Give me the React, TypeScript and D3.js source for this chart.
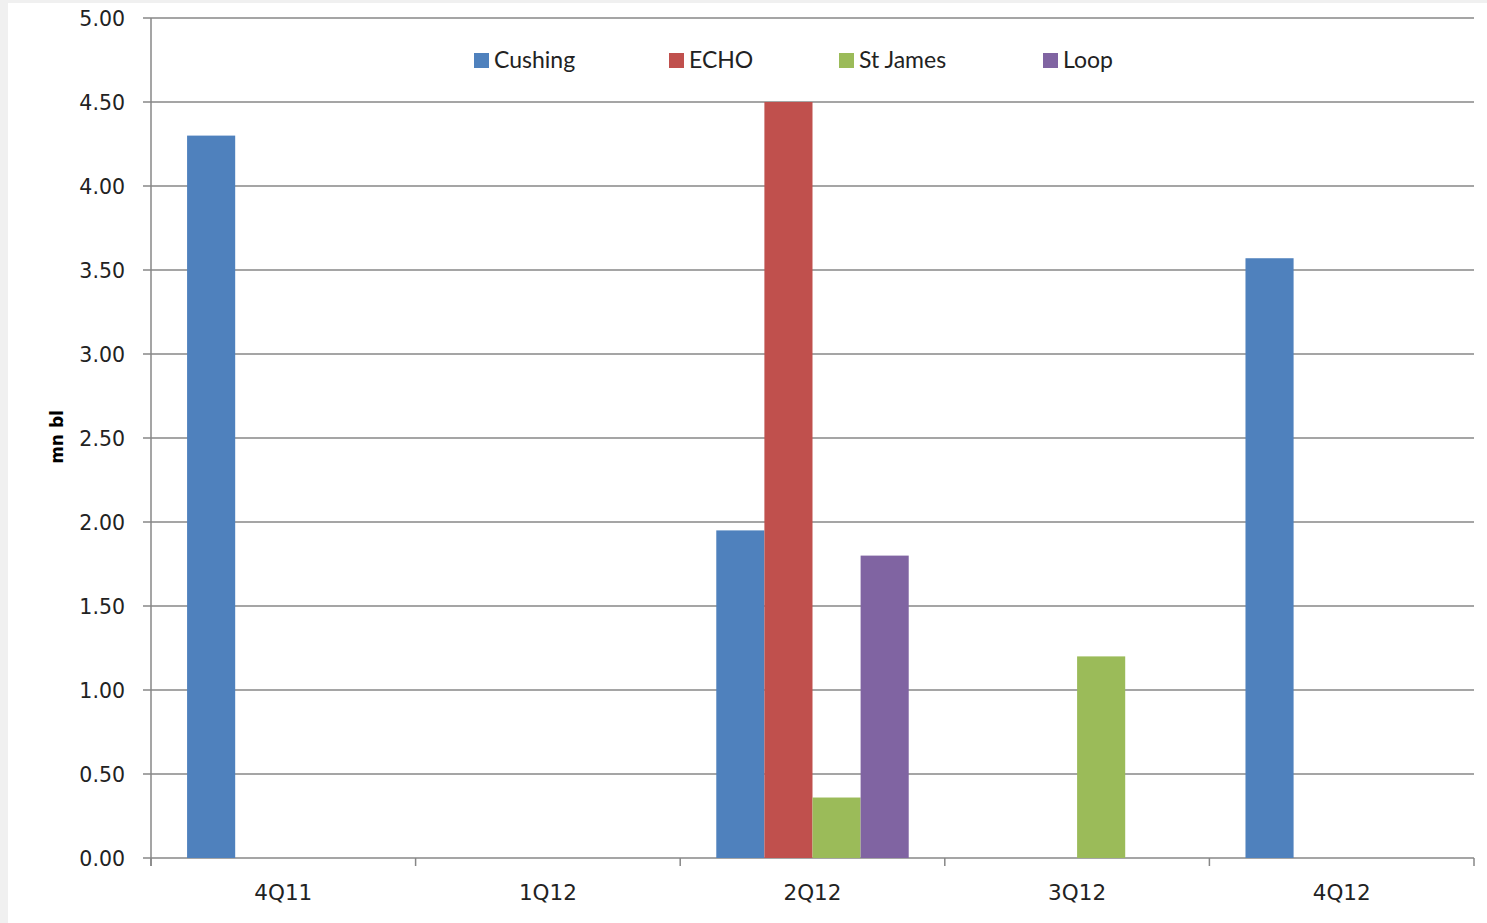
import React from "react";
import * as d3 from "d3";

const categories = ["4Q11", "1Q12", "2Q12", "3Q12", "4Q12"];
const seriesNames = ["Cushing", "ECHO", "St James", "Loop"];
const cushing = [4.3, 0, 1.95, 0, 3.57];
const echo = [0, 0, 4.5, 0, 0];
const stJames = [0, 0, 0.36, 1.2, 0];
const loop = [0, 0, 1.8, 0, 0];
const yTicks = [0, 0.5, 1, 1.5, 2, 2.5, 3, 3.5, 4, 4.5, 5];
const colors = ["#4f81bd", "#c0504d", "#9bbb59", "#8064a2"];
const legendX = [474, 669, 839, 1043];

const W = 1487;
const H = 923;
const left = 151;
const right = 1474;
const top = 18;
const bottom = 858;

export default function App() {
  const seriesValues = [cushing, echo, stJames, loop];
  const x0 = d3.scaleBand<string>().domain(categories).range([left, right]).paddingInner(0).paddingOuter(0);
  const bw = x0.bandwidth();
  const barW = bw / 5.5;
  const y = d3.scaleLinear().domain([0, 5]).range([bottom, top]);
  const grid = "#878787";
  const font = "'DejaVu Sans', Verdana, sans-serif";

  return (
    <svg width={W} height={H} style={{ position: "absolute", left: 0, top: 0, display: "block" }}>
      <rect x={0} y={0} width={W} height={H} fill="#f0f0f0" />
      <rect x={8} y={3} width={W - 8} height={H - 3} fill="#ffffff" />
      {yTicks.map((t) => (
        <g key={t}>
          <line x1={left - 8} x2={right} y1={y(t)} y2={y(t)} stroke={grid} strokeWidth={1.5} />
          <text x={125} y={y(t) + 8} textAnchor="end" fontFamily={font} fontSize={20.5} fill="#222">
            {t.toFixed(2)}
          </text>
        </g>
      ))}
      <line x1={left} x2={left} y1={top} y2={bottom + 8} stroke={grid} strokeWidth={1.5} />
      {categories.map((c, i) => (
        <line key={"t" + i} x1={x0(c)!} x2={x0(c)!} y1={bottom} y2={bottom + 8} stroke={grid} strokeWidth={1.5} />
      ))}
      <line x1={right} x2={right} y1={bottom} y2={bottom + 8} stroke={grid} strokeWidth={1.5} />
      {categories.map((c, i) => (
        <text key={"l" + i} x={x0(c)! + bw / 2} y={900} textAnchor="middle" fontFamily={font} fontSize={21.5} fill="#222">
          {c}
        </text>
      ))}
      {seriesValues.map((vals, s) =>
        vals.map((v, i) =>
          v > 0 ? (
            <rect
              key={s + "-" + i}
              x={x0(categories[i])! + barW * 0.75 + s * barW}
              y={y(v)}
              width={barW}
              height={y(0) - y(v)}
              fill={colors[s]}
            />
          ) : null
        )
      )}
      {seriesNames.map((n, s) => (
        <g key={n}>
          <rect x={legendX[s]} y={53} width={15} height={15} fill={colors[s]} />
          <text x={legendX[s] + 20} y={68} fontFamily="Lato, 'Open Sans', sans-serif" fontSize={23} fill="#222">
            {n}
          </text>
        </g>
      ))}
      <text
        transform={`translate(63, 437) rotate(-90)`}
        textAnchor="middle"
        fontFamily={font}
        fontWeight="bold"
        fontSize={17}
        fill="#000"
      >
        mn bl
      </text>
    </svg>
  );
}
